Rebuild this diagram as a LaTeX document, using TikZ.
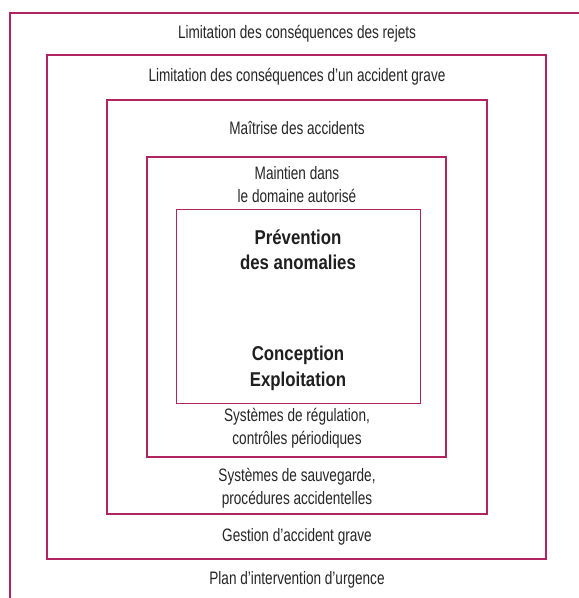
\documentclass[tikz,border=0pt]{standalone}
\usepackage{fontspec}
\setmainfont[FakeStretch=0.755,BoldFeatures={FakeStretch=0.84}]{Liberation Sans}
\definecolor{frame}{RGB}{176,36,98}
\tikzset{
  box/.style={draw=frame, fill=none, inner sep=0pt},
  lbl/.style={font=\fontsize{18}{23.5}\selectfont, text=black!85, align=center, inner sep=0pt},
  blbl/.style={font=\fontsize{20}{25.5}\selectfont\bfseries, text=black!88, align=center, inner sep=0pt}
}
\begin{document}
\begin{tikzpicture}[x=1pt,y=-1pt]
\useasboundingbox (0,0) rectangle (579,598);
\clip (0,0) rectangle (579,598);
\fill[white] (0,0) rectangle (579,598);
% outer open frame
\coordinate (otr) at (590,13);
\coordinate (otl) at (10,13);
\coordinate (obl) at (10,610);
\draw[frame, line width=2.4pt] (otr) -- (otl) -- (obl);
% nested boxes
\node[box, line width=2.4pt, minimum width=499pt, minimum height=504pt] (b2) at (296.5,307) {};
\node[box, line width=2pt, minimum width=380pt, minimum height=414pt] (b3) at (297,307) {};
\node[box, line width=1.4pt, minimum width=299pt, minimum height=300pt] (b4) at (296.5,307) {};
\node[box, line width=1pt, minimum width=244pt, minimum height=194pt] (b5) at (298,306) {};
% labels
\node[lbl] (t1) at (297,34) {Limitation des conséquences des rejets};
\node[lbl] (t2) at (297,77) {Limitation des conséquences d’un accident grave};
\node[lbl] (t3) at (297,128) {Maîtrise des accidents};
\node[lbl] (t4) at (297,184.5) {Maintien dans\\le domaine autorisé};
\node[blbl] (t5) at (298,250) {Prévention\\des anomalies};
\node[blbl] (t6) at (298,368.5) {Conception\\Exploitation};
\node[lbl] (t7) at (297,428) {Systèmes de régulation,\\contrôles périodiques};
\node[lbl] (t8) at (297,488) {Systèmes de sauvegarde,\\procédures accidentelles};
\node[lbl] (t9) at (297,537) {Gestion d’accident grave};
\node[lbl] (t10) at (297,580) {Plan d’intervention d’urgence};
\end{tikzpicture}
\end{document}
